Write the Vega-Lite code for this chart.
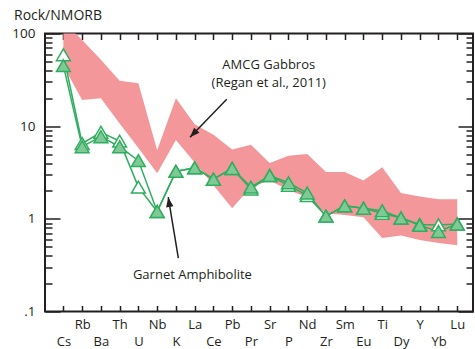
{
  "$schema": "https://vega.github.io/schema/vega-lite/v6.json",
  "width": 428,
  "height": 278,
  "autosize": {"type": "none"},
  "padding": {"left": 45, "top": 33.5, "right": 2, "bottom": 37.5},
  "title": {"text": "Rock/NMORB", "anchor": "start", "frame": "group", "dx": -31, "offset": -7.5, "baseline": "alphabetic", "fontSize": 14, "fontWeight": "normal", "font": "Open Sans", "color": "#231f20"},
  "config": {
    "font": "Open Sans",
    "view": {"stroke": "#231f20", "strokeWidth": 2},
    "axis": {"grid": false, "domain": false, "title": null, "labelOverlap": false, "labelFlush": false, "labelColor": "#231f20", "tickColor": "#231f20", "tickWidth": 1.5, "labelFont": "Open Sans"}
  },
  "datasets": {
    "spider": [
      {"el": "Cs", "n": 0, "lo": 45, "hi": 136, "a": 45, "b": 59},
      {"el": "Rb", "n": 1, "lo": 19.2, "hi": 85, "a": 6.0, "b": 6.5},
      {"el": "Ba", "n": 2, "lo": 20, "hi": 52, "a": 7.7, "b": 8.6},
      {"el": "Th", "n": 3, "lo": 10.7, "hi": 31, "a": 6.0, "b": 6.9},
      {"el": "U", "n": 4, "lo": 5.8, "hi": 29, "a": 4.25, "b": 2.2},
      {"el": "Nb", "n": 5, "lo": 3.1, "hi": 5.5, "a": 1.2, "b": 1.2},
      {"el": "K", "n": 6, "lo": 7.1, "hi": 20, "a": 3.25, "b": 3.25},
      {"el": "La", "n": 7, "lo": 4.05, "hi": 10.5, "a": 3.55, "b": 3.55},
      {"el": "Ce", "n": 8, "lo": 2.3, "hi": 8.1, "a": 2.68, "b": 2.68},
      {"el": "Pb", "n": 9, "lo": 1.3, "hi": 5.6, "a": 3.5, "b": 3.5},
      {"el": "Pr", "n": 10, "lo": 2.2, "hi": 6.3, "a": 2.2, "b": 2.1},
      {"el": "Sr", "n": 11, "lo": 2.6, "hi": 4.0, "a": 2.93, "b": 2.93},
      {"el": "P", "n": 12, "lo": 2.05, "hi": 4.8, "a": 2.45, "b": 2.3},
      {"el": "Nd", "n": 13, "lo": 1.7, "hi": 5.0, "a": 1.9, "b": 1.78},
      {"el": "Zr", "n": 14, "lo": 1.15, "hi": 3.2, "a": 1.07, "b": 1.07},
      {"el": "Sm", "n": 15, "lo": 1.1, "hi": 3.2, "a": 1.38, "b": 1.38},
      {"el": "Eu", "n": 16, "lo": 1.04, "hi": 2.6, "a": 1.3, "b": 1.3},
      {"el": "Ti", "n": 17, "lo": 0.62, "hi": 3.6, "a": 1.22, "b": 1.15},
      {"el": "Dy", "n": 18, "lo": 0.66, "hi": 1.9, "a": 1.02, "b": 1.02},
      {"el": "Y", "n": 19, "lo": 0.59, "hi": 1.74, "a": 0.85, "b": 0.87},
      {"el": "Yb", "n": 20, "lo": 0.55, "hi": 1.63, "a": 0.73, "b": 0.86},
      {"el": "Lu", "n": 21, "lo": 0.52, "hi": 1.63, "a": 0.88, "b": 0.88}
    ]
  },
  "resolve": {"axis": {"x": "independent", "y": "independent"}},
  "layer": [
    {
      "data": {"name": "spider"},
      "mark": {"type": "area", "color": "#f4979a", "opacity": 1, "clip": true},
      "encoding": {
        "x": {"field": "n", "type": "quantitative", "scale": {"domain": [-0.98, 21.84], "nice": false, "zero": false},
          "axis": {"orient": "bottom", "values": [0,1,2,3,4,5,6,7,8,9,10,11,12,13,14,15,16,17,18,19,20,21],
            "labelExpr": "datum.value % 2 == 0 ? ['', ['Cs','Rb','Ba','Th','U','Nb','K','La','Ce','Pb','Pr','Sr','P','Nd','Zr','Sm','Eu','Ti','Dy','Y','Yb','Lu'][datum.value]] : ['Cs','Rb','Ba','Th','U','Nb','K','La','Ce','Pb','Pr','Sr','P','Nd','Zr','Sm','Eu','Ti','Dy','Y','Yb','Lu'][datum.value]",
            "tickSize": -6, "labelPadding": 13, "labelBaseline": "top", "labelLineHeight": 16.5, "labelFontSize": 13, "labelAngle": 0}},
        "y": {"field": "hi", "type": "quantitative", "scale": {"type": "log", "domain": [0.1, 100], "nice": false},
          "axis": {"orient": "left", "values": [0.1,0.2,0.3,0.4,0.5,0.6,0.7,0.8,0.9,1,2,3,4,5,6,7,8,9,10,20,30,40,50,60,70,80,90,100],
            "labelExpr": "datum.value == 100 ? '100' : datum.value == 10 ? '10' : datum.value == 1 ? '1' : datum.value == 0.1 ? '.1' : ''",
            "tickSize": {"condition": {"test": "indexof([0.1,1,10,100], datum.value) >= 0", "value": -15}, "value": -7},
            "labelPadding": 25, "labelFontSize": 13.5}},
        "y2": {"field": "lo"}
      }
    },
    {
      "data": {"name": "spider"},
      "mark": {"type": "line", "color": "#2fae5f", "strokeWidth": 1.5},
      "encoding": {
        "x": {"field": "n", "type": "quantitative",
          "axis": {"orient": "top", "values": [0,1,2,3,4,5,6,7,8,9,10,11,12,13,14,15,16,17,18,19,20,21], "labels": false, "tickSize": -6}},
        "y": {"field": "b", "type": "quantitative",
          "axis": {"orient": "right", "values": [0.1,0.2,0.3,0.4,0.5,0.6,0.7,0.8,0.9,1,2,3,4,5,6,7,8,9,10,20,30,40,50,60,70,80,90,100], "labels": false,
            "tickSize": {"condition": {"test": "indexof([0.1,1,10,100], datum.value) >= 0", "value": -15}, "value": -7}}}
      }
    },
    {
      "data": {"name": "spider"},
      "mark": {"type": "line", "color": "#2fae5f", "strokeWidth": 1.5},
      "encoding": {
        "x": {"field": "n", "type": "quantitative", "axis": null},
        "y": {"field": "a", "type": "quantitative", "axis": null}
      }
    },
    {
      "data": {"name": "spider"},
      "mark": {"type": "point", "shape": "triangle-up", "size": 190, "filled": true, "fill": "#ffffff", "stroke": "#2fae5f", "strokeWidth": 1.5, "opacity": 1},
      "encoding": {
        "x": {"field": "n", "type": "quantitative", "axis": null},
        "y": {"field": "b", "type": "quantitative", "axis": null}
      }
    },
    {
      "data": {"name": "spider"},
      "mark": {"type": "point", "shape": "triangle-up", "size": 190, "filled": true, "fill": "#80c997", "stroke": "#2fae5f", "strokeWidth": 1.5, "opacity": 1},
      "encoding": {
        "x": {"field": "n", "type": "quantitative", "axis": null},
        "y": {"field": "a", "type": "quantitative", "axis": null}
      }
    },
    {
      "data": {"values": [
        {"t": "AMCG Gabbros", "n": 10.95, "v": 45.8},
        {"t": "(Regan et al., 2011)", "n": 10.95, "v": 29.1},
        {"t": "Garnet Amphibolite", "n": 6.88, "v": 0.249}
      ]},
      "mark": {"type": "text", "fontSize": 13, "font": "Open Sans", "color": "#231f20", "align": "center", "baseline": "middle"},
      "encoding": {
        "x": {"field": "n", "type": "quantitative", "axis": null},
        "y": {"field": "v", "type": "quantitative", "axis": null},
        "text": {"field": "t"}
      }
    },
    {
      "data": {"values": [
        {"n": 8.71, "v": 19.5, "n2": 6.75, "v2": 7.6},
        {"n": 6.13, "v": 0.377, "n2": 5.59, "v2": 1.71}
      ]},
      "mark": {"type": "rule", "color": "#231f20", "strokeWidth": 1.5},
      "encoding": {
        "x": {"field": "n", "type": "quantitative", "axis": null},
        "y": {"field": "v", "type": "quantitative", "axis": null},
        "x2": {"field": "n2"},
        "y2": {"field": "v2"}
      }
    },
    {
      "data": {"values": [{"n2": 6.75, "v2": 7.6}]},
      "mark": {"type": "point", "shape": "M0,0 L0.38,1 L-0.38,1 Z", "size": 380, "filled": true, "color": "#231f20", "opacity": 1, "angle": 224},
      "encoding": {
        "x": {"field": "n2", "type": "quantitative", "axis": null},
        "y": {"field": "v2", "type": "quantitative", "axis": null}
      }
    },
    {
      "data": {"values": [{"n2": 5.59, "v2": 1.71}]},
      "mark": {"type": "point", "shape": "M0,0 L0.38,1 L-0.38,1 Z", "size": 380, "filled": true, "color": "#231f20", "opacity": 1, "angle": 351},
      "encoding": {
        "x": {"field": "n2", "type": "quantitative", "axis": null},
        "y": {"field": "v2", "type": "quantitative", "axis": null}
      }
    }
  ]
}
